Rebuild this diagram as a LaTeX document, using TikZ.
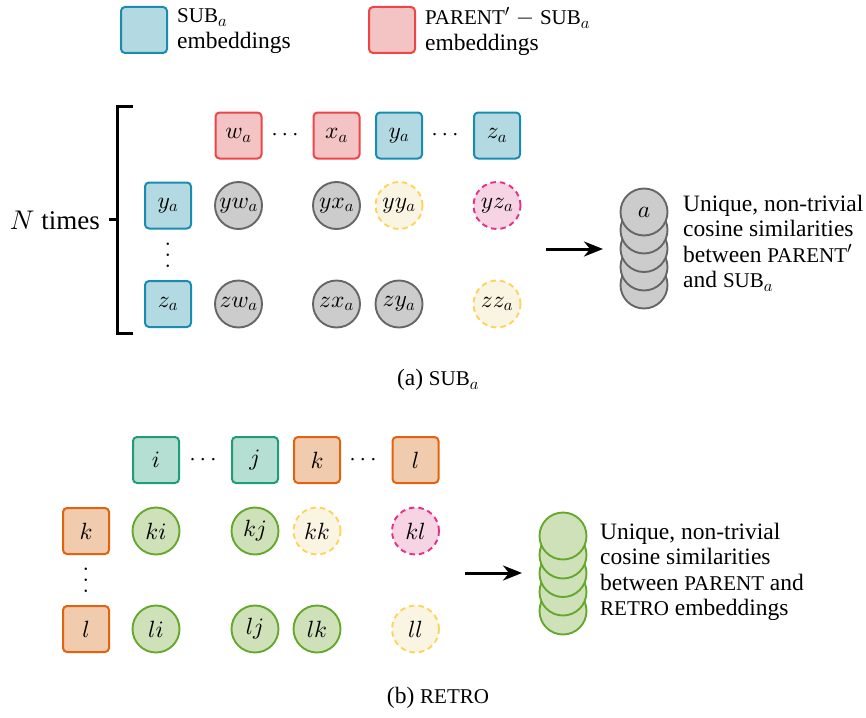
\documentclass[tikz,border=0pt]{standalone}
\usepackage{fontspec}
\setmainfont{Liberation Serif}
\usetikzlibrary{arrows.meta}

% scalable math fonts
\DeclareFontFamily{OML}{cmm}{\skewchar\font'177}
\DeclareFontShape{OML}{cmm}{m}{it}{<-> cmmi10}{}
\DeclareFontFamily{OMS}{cmsy}{\skewchar\font'60}
\DeclareFontShape{OMS}{cmsy}{m}{n}{<-> cmsy10}{}
\DeclareMathSizes{23.5}{23.5}{16.45}{11.75}
\DeclareMathSizes{27}{27}{18.9}{13.5}

% palette
\definecolor{subfill}{HTML}{B3DAE2}
\definecolor{subdraw}{HTML}{1A8CB0}
\definecolor{parfill}{HTML}{F4C3C3}
\definecolor{pardraw}{HTML}{EE4548}
\definecolor{grayfill}{HTML}{CCCCCC}
\definecolor{graydraw}{HTML}{666666}
\definecolor{selffill}{HTML}{FAF4E3}
\definecolor{selfdraw}{HTML}{FDD45A}
\definecolor{dupfill}{HTML}{F7D4E4}
\definecolor{dupdraw}{HTML}{E62E8A}
\definecolor{tealfill}{HTML}{B4DFD2}
\definecolor{tealdraw}{HTML}{1E9E78}
\definecolor{orfill}{HTML}{F0CBAD}
\definecolor{ordraw}{HTML}{E2620E}
\definecolor{grnfill}{HTML}{CFE1B9}
\definecolor{grndraw}{HTML}{64A82C}

% small capitals imitated by reduced upper case
\newcommand{\mysc}[1]{{\fontsize{21}{25.5}\selectfont #1}}
% vertical ellipsis at the size of the picture
\newcommand{\myvdots}{\vbox{\baselineskip=11pt\lineskiplimit=0pt\hbox{$.$}\hbox{$.$}\hbox{$.$}}}

\begin{document}
\begin{tikzpicture}[x=1pt,y=-1pt,
  font=\fontsize{23.5}{25.5}\selectfont,
  emb/.style={rectangle, rounded corners=4pt, minimum size=46pt, inner sep=0pt, line width=2pt},
  subbox/.style={emb, fill=subfill, draw=subdraw},
  parbox/.style={emb, fill=parfill, draw=pardraw},
  tealbox/.style={emb, fill=tealfill, draw=tealdraw},
  orbox/.style={emb, fill=orfill, draw=ordraw},
  sim/.style={circle, minimum size=47pt, inner sep=0pt, line width=1.9pt},
  graysim/.style={sim, fill=grayfill, draw=graydraw},
  grnsim/.style={sim, fill=grnfill, draw=grndraw},
  selfsim/.style={sim, fill=selffill, draw=selfdraw, dash pattern=on 5.5pt off 4pt},
  dupsim/.style={sim, fill=dupfill, draw=dupdraw, dash pattern=on 5.5pt off 4pt},
  txt/.style={align=left, inner sep=0pt, anchor=west},
  flow/.style={line width=3pt, -{Stealth[length=19pt,width=15pt,inset=6pt]}},
  brace/.style={line width=3pt}
]
\useasboundingbox (0,0) rectangle (866,717);

% ---------- legend ----------
\node[subbox] (legsub) at (144,30) {};
\node[txt] (legsubt) at (177,31) {\mysc{SUB}$_a$\\embeddings};
\node[parbox] (legpar) at (392,30) {};
\node[txt] (legpart) at (425,31) {\mysc{PARENT}$'$ $-$ \mysc{SUB}$_a$\\embeddings};

% ---------- (a) ----------
\node[parbox] (tw) at (238.5,135.5) {$w_a$};
\node (hd1) at (285,135.5) {$\cdots$};
\node[parbox] (tx) at (336.5,135.5) {$x_a$};
\node[subbox] (ty) at (399,135.5) {$y_a$};
\node (hd2) at (445,135.5) {$\cdots$};
\node[subbox] (tz) at (497,135.5) {$z_a$};

\node[subbox] (ly) at (168,205.5) {$y_a$};
\node[inner sep=0pt] (vd1) at (168,255) {\myvdots};
\node[subbox] (lz) at (168,304) {$z_a$};

\node[graysim] (yw) at (238.5,205.5) {$yw_a$};
\node[graysim] (yx) at (336.5,205.5) {$yx_a$};
\node[selfsim] (yy) at (399,205.5) {$yy_a$};
\node[dupsim]  (yz) at (497,205.5) {$yz_a$};
\node[graysim] (zw) at (238.5,304) {$zw_a$};
\node[graysim] (zx) at (336.5,304) {$zx_a$};
\node[graysim] (zy) at (399,304) {$zy_a$};
\node[selfsim] (zz) at (497,304) {$zz_a$};

% bracket for the repetition
\coordinate (brt) at (133,106);
\coordinate (brb) at (133,333);
\coordinate (brm) at (117,219);
\draw[brace] (brt) -- (117,106) -- (117,333) -- (brb);
\draw[brace] (brm) -- (109,219);
\node[anchor=east, inner sep=0pt, font=\fontsize{27}{30}\selectfont] (ntimes) at (100,220) {$N$ times};

% arrow and result stack
\coordinate (arA1) at (546,249);
\coordinate (arA2) at (603,249);
\draw[flow] (arA1) -- (arA2);
\node[graysim] (sa5) at (644,285) {};
\node[graysim] (sa4) at (644,267) {};
\node[graysim] (sa3) at (644,248.5) {};
\node[graysim] (sa2) at (644,230) {};
\node[graysim] (sa1) at (644,212) {$a$};
\node[txt] (resa) at (683,243) {Unique, non-trivial\\cosine similarities\\between \mysc{PARENT}$'$\\and \mysc{SUB}$_a$};

\node (capa) at (438,380) {(a) \mysc{SUB}$_a$};

% ---------- (b) ----------
\node[tealbox] (ti) at (156,460) {$i$};
\node (hd3) at (203,460) {$\cdots$};
\node[tealbox] (tj) at (255,460) {$j$};
\node[orbox] (tk) at (317,460) {$k$};
\node (hd4) at (363,460) {$\cdots$};
\node[orbox] (tl) at (415.5,460) {$l$};

\node[orbox] (lk) at (86,531) {$k$};
\node[inner sep=0pt] (vd2) at (86,580) {\myvdots};
\node[orbox] (ll) at (86,629) {$l$};

\node[grnsim]  (ki) at (156,531) {$ki$};
\node[grnsim]  (kj) at (255,531) {$kj$};
\node[selfsim] (kk) at (317,531) {$kk$};
\node[dupsim]  (kl) at (415.5,531) {$kl$};
\node[grnsim]  (li) at (156,629) {$li$};
\node[grnsim]  (lj) at (255,629) {$lj$};
\node[grnsim]  (lkc) at (317,629) {$lk$};
\node[selfsim] (llc) at (415.5,629) {$ll$};

\coordinate (arB1) at (465,573);
\coordinate (arB2) at (522,573);
\draw[flow] (arB1) -- (arB2);
\node[grnsim] (sb5) at (563,611) {};
\node[grnsim] (sb4) at (563,592) {};
\node[grnsim] (sb3) at (563,573.5) {};
\node[grnsim] (sb2) at (563,555) {};
\node[grnsim] (sb1) at (563,536) {};
\node[txt] (resb) at (600,572) {Unique, non-trivial\\cosine similarities\\between \mysc{PARENT} and\\\mysc{RETRO} embeddings};

\node (capb) at (438,698) {(b) \mysc{RETRO}};
\end{tikzpicture}
\end{document}
